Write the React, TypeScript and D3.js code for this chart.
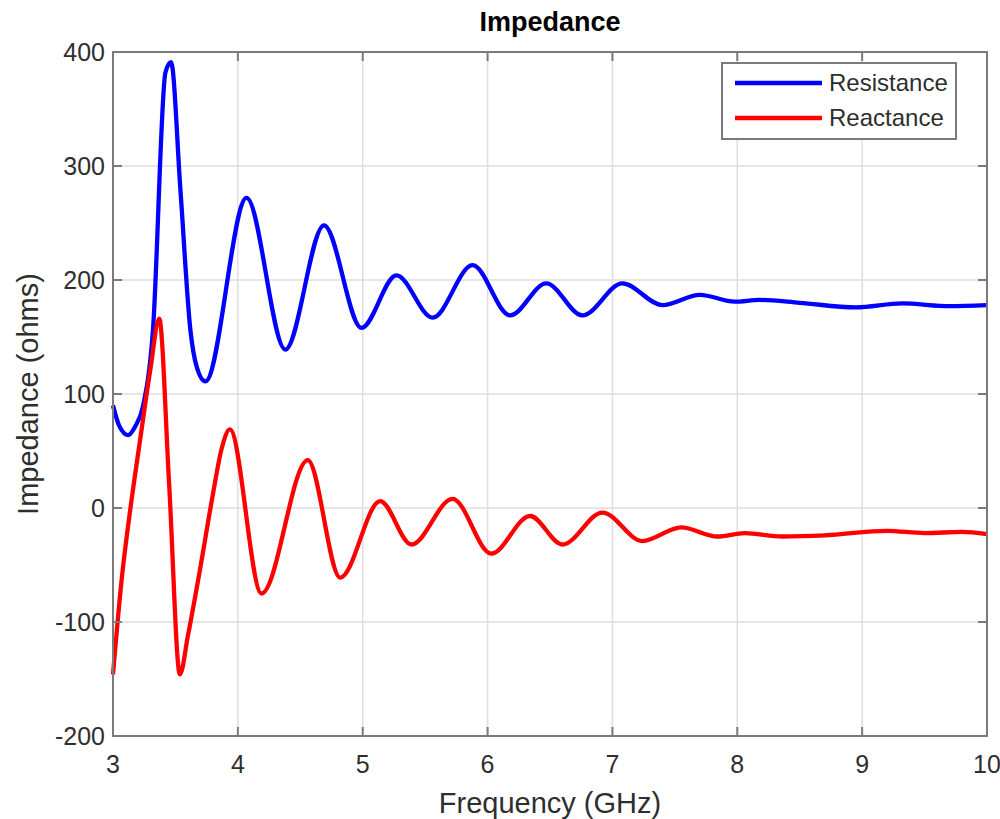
import React from "react";
import * as d3 from "d3";

const resFreq = [3.0, 3.05, 3.12, 3.18, 3.24, 3.32, 3.42, 3.465, 3.54, 3.62, 3.67, 3.74, 4.07, 4.38, 4.69, 4.99, 5.27, 5.56, 5.88, 6.18, 6.47, 6.76, 7.08, 7.4, 7.7, 7.98, 8.18, 8.5, 8.95, 9.32, 9.7, 10.0];
const resVals = [90, 72, 64, 72, 89, 156, 382, 391, 279, 156, 124, 111, 272, 139, 248, 158, 204, 167, 213, 169, 197, 169, 197, 178, 187, 181, 182.5, 180, 176, 179.5, 177, 178];

const reaFreq = [3.0, 3.07, 3.14, 3.22, 3.3, 3.37, 3.45, 3.536, 3.6, 3.7, 3.8, 3.87, 3.936, 4.19, 4.56, 4.82, 5.14, 5.39, 5.72, 6.03, 6.34, 6.6, 6.92, 7.24, 7.55, 7.84, 8.06, 8.36, 8.7, 9.2, 9.5, 9.8, 10.0];
const reaVals = [-146, -62, 0, 62, 122, 166, 20, -146, -112, -52, 12, 52, 69, -75, 42, -61, 6, -32, 8, -40, -7, -32, -4, -29, -17, -25, -22, -25, -24, -20, -22, -21, -23];

const xTicks = [3, 4, 5, 6, 7, 8, 9, 10];
const yTicks = [-200, -100, 0, 100, 200, 300, 400];
const seriesNames = ["Resistance", "Reactance"];
const seriesColors = ["#0000ff", "#ff0000"];

const W = 1000, H = 819;
const L = 113, R = 987, T = 52, B = 736;

export default function App() {
  const x = d3.scaleLinear().domain([3, 10]).range([L, R]);
  const y = d3.scaleLinear().domain([-200, 400]).range([B, T]);
  const line = d3
    .line<[number, number]>()
    .x((d) => x(d[0]))
    .y((d) => y(d[1]))
    .curve(d3.curveMonotoneX);
  const res: [number, number][] = resFreq.map((f, i) => [f, resVals[i]]);
  const rea: [number, number][] = reaFreq.map((f, i) => [f, reaVals[i]]);
  const font = "'Liberation Sans', Arial, Helvetica, sans-serif";
  const axisColor = "#7a7a7a";
  const textColor = "#2e2e2e";
  const tickLen = 9;

  const legX = 722, legY = 63, legW = 234, legH = 76;

  return (
    <svg width={W} height={H} style={{ position: "absolute", left: 0, top: 0, background: "#fff" }} fontFamily={font}>
      <rect x={0} y={0} width={W} height={H} fill="#fff" />
      {xTicks.slice(1, -1).map((t) => (
        <line key={"gx" + t} x1={x(t)} x2={x(t)} y1={T} y2={B} stroke="#dedede" strokeWidth={1.5} />
      ))}
      {yTicks.slice(1, -1).map((t) => (
        <line key={"gy" + t} x1={L} x2={R} y1={y(t)} y2={y(t)} stroke="#dedede" strokeWidth={1.5} />
      ))}
      <path d={line(res) || ""} fill="none" stroke={seriesColors[0]} strokeWidth={4.3} strokeLinejoin="round" />
      <path d={line(rea) || ""} fill="none" stroke={seriesColors[1]} strokeWidth={4.3} strokeLinejoin="round" />
      <rect x={L} y={T} width={R - L} height={B - T} fill="none" stroke={axisColor} strokeWidth={2} />
      {xTicks.map((t) => (
        <g key={"xt" + t}>
          <line x1={x(t)} x2={x(t)} y1={B} y2={B - tickLen} stroke={axisColor} strokeWidth={2} />
          <line x1={x(t)} x2={x(t)} y1={T} y2={T + tickLen} stroke={axisColor} strokeWidth={2} />
          <text x={x(t)} y={B + 37} textAnchor="middle" fontSize={25} fill={textColor}>
            {t}
          </text>
        </g>
      ))}
      {yTicks.map((t) => (
        <g key={"yt" + t}>
          <line x1={L} x2={L + tickLen} y1={y(t)} y2={y(t)} stroke={axisColor} strokeWidth={2} />
          <line x1={R} x2={R - tickLen} y1={y(t)} y2={y(t)} stroke={axisColor} strokeWidth={2} />
          <text x={L - 8} y={y(t) + 9} textAnchor="end" fontSize={25} fill={textColor}>
            {t}
          </text>
        </g>
      ))}
      <text x={(L + R) / 2} y={813} textAnchor="middle" fontSize={29} fill={textColor}>
        Frequency (GHz)
      </text>
      <text
        transform={`translate(38, ${(T + B) / 2}) rotate(-90)`}
        textAnchor="middle"
        fontSize={29}
        fill={textColor}
      >
        Impedance (ohms)
      </text>
      <text x={(L + R) / 2} y={31} textAnchor="middle" fontSize={27} fontWeight="bold" fill="#000">
        Impedance
      </text>
      <rect x={legX} y={legY} width={legW} height={legH} fill="#fff" stroke={axisColor} strokeWidth={2} />
      {seriesNames.map((n, i) => (
        <g key={n}>
          <line x1={735} x2={822} y1={83 + i * 35} y2={83 + i * 35} stroke={seriesColors[i]} strokeWidth={4.3} />
          <text x={829} y={83 + i * 35 + 8} fontSize={24} fill={textColor}>
            {n}
          </text>
        </g>
      ))}
    </svg>
  );
}
